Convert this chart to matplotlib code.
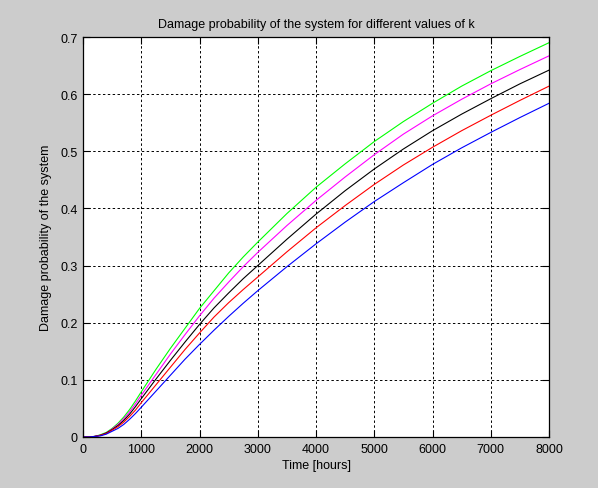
import numpy as np
import matplotlib.pyplot as plt

plt.rcParams['font.family'] = ['Liberation Sans', 'DejaVu Sans']

# time points [hours]
t = [0, 100, 200, 300, 400, 500, 600, 700, 800, 900, 1000, 1250, 1500, 1750,
     2000, 2250, 2500, 2750, 3000, 3500, 4000, 4500, 5000, 5500, 6000, 6500,
     7000, 7500, 8000]

# damage probability for different k values
p_green = [0, 0, 0.001, 0.004, 0.008, 0.015, 0.024, 0.035, 0.048, 0.063, 0.079,
           0.118, 0.155, 0.190, 0.225, 0.256, 0.287, 0.315, 0.341, 0.391, 0.437,
           0.478, 0.517, 0.552, 0.584, 0.614, 0.641, 0.666, 0.690]
p_magenta = [0, 0, 0.001, 0.003, 0.007, 0.014, 0.022, 0.032, 0.044, 0.058, 0.073,
             0.109, 0.145, 0.179, 0.212, 0.243, 0.271, 0.298, 0.323, 0.370, 0.414,
             0.455, 0.494, 0.530, 0.562, 0.591, 0.618, 0.643, 0.667]
p_black = [0, 0, 0.001, 0.003, 0.007, 0.013, 0.020, 0.029, 0.040, 0.053, 0.067,
           0.101, 0.134, 0.166, 0.197, 0.226, 0.252, 0.277, 0.300, 0.346, 0.390,
           0.431, 0.469, 0.504, 0.536, 0.565, 0.592, 0.618, 0.642]
p_red = [0, 0, 0.001, 0.003, 0.006, 0.012, 0.018, 0.026, 0.036, 0.047, 0.060,
         0.091, 0.122, 0.153, 0.182, 0.210, 0.235, 0.258, 0.280, 0.324, 0.366,
         0.405, 0.442, 0.476, 0.507, 0.536, 0.563, 0.589, 0.614]
p_blue = [0, 0, 0.001, 0.002, 0.005, 0.010, 0.015, 0.022, 0.031, 0.041, 0.052,
          0.080, 0.108, 0.136, 0.162, 0.187, 0.211, 0.234, 0.256, 0.298, 0.338,
          0.376, 0.412, 0.445, 0.477, 0.506, 0.533, 0.559, 0.584]

xticks = [0, 1000, 2000, 3000, 4000, 5000, 6000, 7000, 8000]
yticks = [0, 0.1, 0.2, 0.3, 0.4, 0.5, 0.6, 0.7]

fig = plt.figure(figsize=(5.98, 4.89), dpi=100, facecolor='#cccccc')
ax = fig.add_axes([83/598, 51/489, 466/598, 400/489])

ax.plot(t, p_green, color=(0, 1, 0), lw=0.8)
ax.plot(t, p_magenta, color=(1, 0, 1), lw=0.8)
ax.plot(t, p_black, color='black', lw=0.8)
ax.plot(t, p_red, color=(1, 0, 0), lw=0.8)
ax.plot(t, p_blue, color=(0, 0, 1), lw=0.8)

ax.set_xlim(0, 8000)
ax.set_ylim(0, 0.7)
ax.set_xticks(xticks)
ax.set_xticklabels([str(v) for v in xticks])
ax.set_yticks(yticks)
ax.set_yticklabels(['0', '0.1', '0.2', '0.3', '0.4', '0.5', '0.6', '0.7'])
ax.grid(True, color='black', linestyle=(0, (2.5, 2.5)), lw=0.7)
ax.tick_params(direction='in', top=True, right=True, length=5, width=0.8,
               labelsize=9, pad=4)
for s in ax.spines.values():
    s.set_linewidth(0.9)

ax.set_title('Damage probability of the system for different values of k',
             fontsize=9, pad=7)
ax.set_xlabel('Time [hours]', fontsize=9, labelpad=3)
ax.set_ylabel('Damage probability of the system', fontsize=9, labelpad=6)

fig.savefig('out.png', dpi=100, facecolor=fig.get_facecolor())
